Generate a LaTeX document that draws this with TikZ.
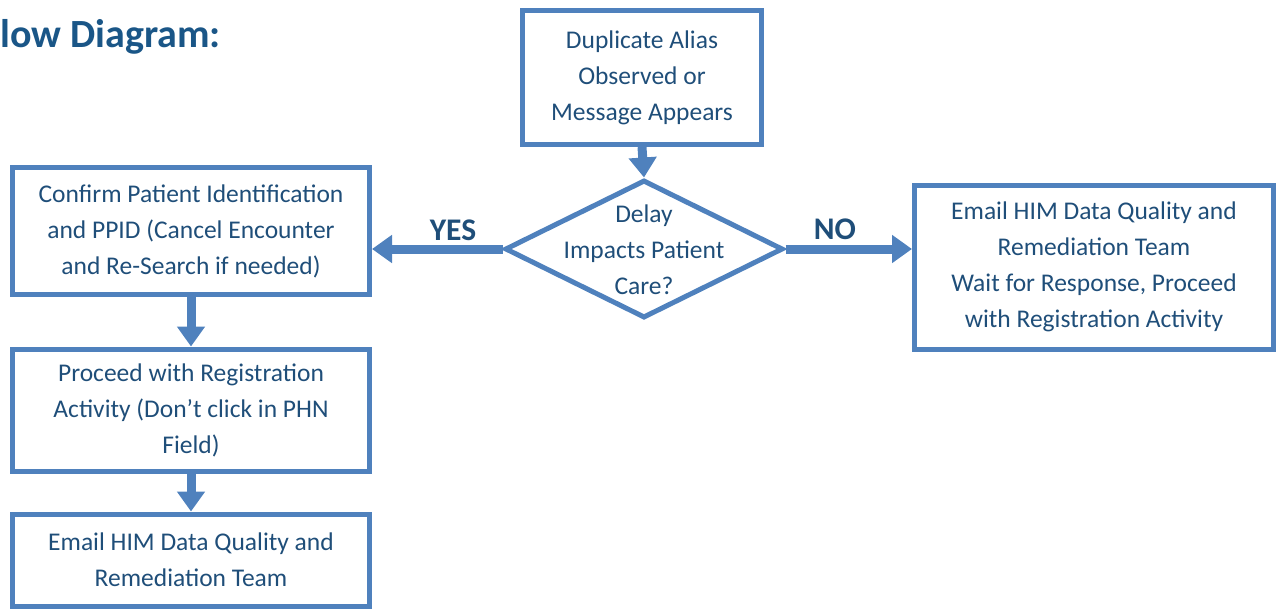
\documentclass[tikz,border=0pt]{standalone}
\usepackage{fontspec}
\setmainfont{Carlito}
\usetikzlibrary{arrows.meta,shapes.geometric}
\definecolor{boxblue}{HTML}{4F81BD}
\definecolor{txtblue}{HTML}{1F4E79}
\definecolor{ttlblue}{HTML}{1A5687}
\tikzset{
  box/.style={draw=boxblue, line width=5pt, rectangle, inner sep=0pt,
    text=txtblue, align=center, font=\fontsize{25.5}{36}\selectfont},
  decision/.style={draw=boxblue, line width=5pt, diamond, inner sep=0pt, minimum width=278pt, minimum height=138pt},
  dtext/.style={text=txtblue, align=center, font=\fontsize{25.5}{36}\selectfont, inner sep=0pt},
  arr/.style={draw=boxblue, line width=9pt, -{Triangle[width=27pt,length=20pt]}},
  lbl/.style={text=txtblue, font=\fontsize{31.5}{34}\selectfont\bfseries, inner sep=0pt},
}
\begin{document}
\begin{tikzpicture}[x=1pt,y=-1pt]
\useasboundingbox (0,0) rectangle (1279,610);
\node[anchor=west, text=ttlblue, font=\fontsize{40}{42}\selectfont\bfseries, inner sep=0pt] (title) at (0,37) {low Diagram:};
\node[box, minimum width=239pt, minimum height=134pt] (top) at (642,77.5) {Duplicate Alias\\Observed or\\Message Appears};
\node[decision] (d) at (644,249) {};
\node[dtext] (dt) at (644,250) {Delay\\Impacts Patient\\Care?};
\node[box, minimum width=357pt, minimum height=127pt] (l1) at (191,231) {Confirm Patient Identification\\and PPID (Cancel Encounter\\and Re-Search if needed)};
\node[box, minimum width=357pt, minimum height=122pt] (l2) at (191,410) {Proceed with Registration\\Activity (Don’t click in PHN\\Field)};
\node[box, minimum width=357pt, minimum height=92pt] (l3) at (191,560) {Email HIM Data Quality and\\Remediation Team};
\node[box, minimum width=359pt, minimum height=164pt] (r) at (1094,267) {Email HIM Data Quality and\\Remediation Team\\Wait for Response, Proceed\\with Registration Activity};
\node[lbl] (yes) at (453,230) {YES};
\node[lbl] (no) at (835,229) {NO};
\draw[arr] (top.south) -- (d.north);
\draw[arr] (d.west) -- (d.west -| l1.east);
\draw[arr] (d.east) -- (d.east -| r.west);
\draw[arr] (l1.south) -- (l2.north);
\draw[arr] (l2.south) -- (l3.north);
\end{tikzpicture}
\end{document}
